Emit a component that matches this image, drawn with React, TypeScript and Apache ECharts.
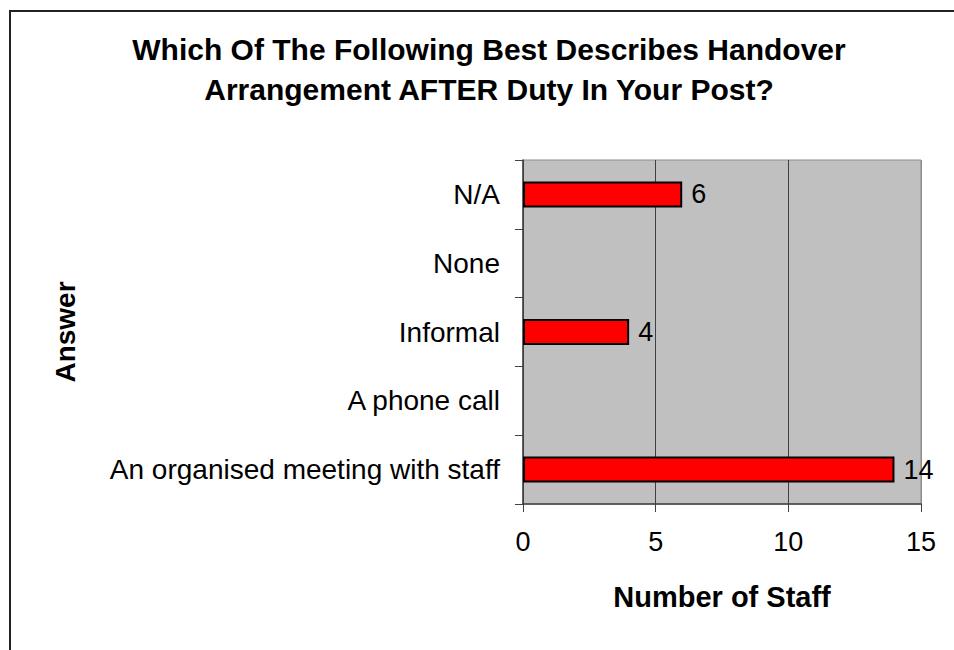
import React, { useEffect, useRef } from "react";
import * as echarts from "echarts";

const titleText = "Which Of The Following Best Describes Handover\nArrangement AFTER Duty In Your Post?";
const categories = [
  "An organised meeting with staff",
  "A phone call",
  "Informal",
  "None",
  "N/A",
];
const staffCounts = [14, 0, 4, 0, 6];
const xMin = 0;
const xMax = 15;
const xInterval = 5;
const xAxisName = "Number of Staff";
const yAxisName = "Answer";

const FONT = "'Liberation Sans', Arial, sans-serif";

export default function App() {
  const ref = useRef<HTMLDivElement>(null);
  useEffect(() => {
    if (!ref.current) return;
    const chart = echarts.init(ref.current, null, { renderer: "svg" });
    const data = staffCounts.map((v) =>
      v === 0
        ? { value: v, itemStyle: { borderWidth: 0 } }
        : { value: v }
    );
    chart.setOption({
      animation: false,
      backgroundColor: "#ffffff",
      textStyle: { fontFamily: FONT },
      title: {
        text: titleText,
        left: 489,
        textAlign: "center",
        top: 29,
        padding: 0,
        textStyle: {
          fontFamily: FONT,
          fontSize: 30,
          fontWeight: "bold",
          color: "#000",
          lineHeight: 40,
        },
      },
      graphic: [
        {
          type: "rect",
          shape: { x: 10, y: 11, width: 2000, height: 2000 },
          style: { fill: "none", stroke: "#222", lineWidth: 2 },
          silent: true,
          z: 100,
        },
      ],
      grid: {
        left: 523,
        right: 33,
        top: 160,
        bottom: 146,
        show: true,
        backgroundColor: "#C0C0C0",
        borderColor: "#8c8c8c",
        borderWidth: 1,
      },
      xAxis: {
        type: "value",
        min: xMin,
        max: xMax,
        interval: xInterval,
        name: xAxisName,
        nameLocation: "middle",
        nameGap: 78,
        nameTextStyle: {
          fontFamily: FONT,
          fontSize: 29,
          fontWeight: "bold",
          color: "#000",
        },
        axisLine: { show: true, lineStyle: { color: "#404040", width: 1.5 } },
        axisTick: { show: true, inside: false, length: 8, lineStyle: { color: "#404040", width: 1 } },
        axisLabel: {
          margin: 24,
          fontFamily: FONT,
          fontSize: 27,
          color: "#000",
        },
        splitLine: {
          show: true,
          lineStyle: { color: ["#404040", "#404040", "#404040", "#8c8c8c"], width: 1 },
        },
      },
      yAxis: {
        type: "category",
        data: categories,
        name: yAxisName,
        nameLocation: "middle",
        nameRotate: 90,
        nameGap: 444,
        nameTextStyle: {
          fontFamily: FONT,
          fontSize: 28,
          fontWeight: "bold",
          color: "#000",
        },
        axisLine: { show: true, lineStyle: { color: "#404040", width: 1.5 } },
        axisTick: { show: true, inside: false, length: 8, lineStyle: { color: "#404040", width: 1 } },
        axisLabel: {
          margin: 23,
          fontFamily: FONT,
          fontSize: 28,
          color: "#000",
        },
        splitLine: { show: false },
      },
      series: [
        {
          type: "bar",
          data,
          barWidth: 26,
          itemStyle: { color: "#FF0000", borderColor: "#000", borderWidth: 2 },
          label: {
            show: true,
            position: "right",
            distance: 9,
            fontFamily: FONT,
            fontSize: 27,
            color: "#000",
            formatter: (p: any) => (p.value === 0 ? "" : String(p.value)),
          },
        },
      ],
    });
    return () => chart.dispose();
  }, []);
  return (
    <div
      ref={ref}
      style={{ position: "absolute", left: 0, top: 0, width: 954, height: 650 }}
    />
  );
}
